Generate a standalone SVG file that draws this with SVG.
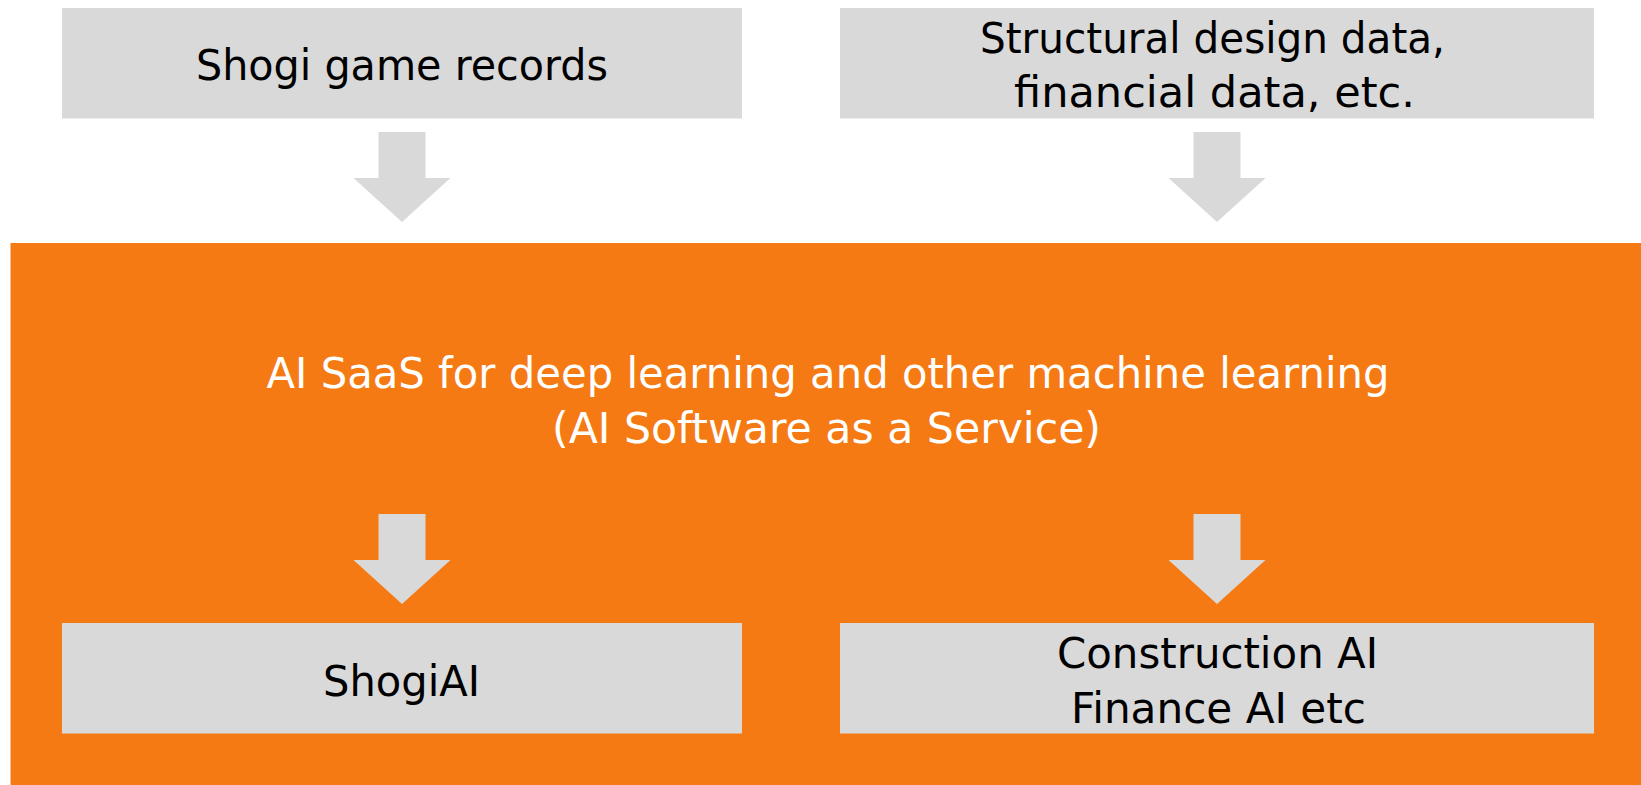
<svg xmlns="http://www.w3.org/2000/svg" width="1641" height="785" viewBox="0 0 1641 785">
<style>
.box{fill:#D9D9D9}
.arrow{fill:#D9D9D9}
.t{font-family:"DejaVu Sans","Verdana",sans-serif;font-size:43px;fill:#000;text-anchor:middle}
.w{fill:#FFFFFF}
</style>
<defs>
<path id="darrow" d="M-23.5,0 H23.5 V46 H48.5 L0,90 L-48.5,46 H-23.5 Z"/>
</defs>
<rect x="0" y="0" width="1641" height="785" fill="#FFFFFF"/>
<g id="saas">
<rect x="10.5" y="243" width="1631" height="542" fill="#F57A14"/>
<text class="t w" x="828" y="388" textLength="1123" lengthAdjust="spacingAndGlyphs">AI SaaS for deep learning and other machine learning</text>
<text class="t w" x="826.5" y="443" textLength="549" lengthAdjust="spacingAndGlyphs">(AI Software as a Service)</text>
</g>
<g id="shogi-records">
<rect class="box" x="62" y="8" width="680" height="110.5"/>
<text class="t" x="402" y="80" textLength="412" lengthAdjust="spacingAndGlyphs">Shogi game records</text>
</g>
<g id="structural-data">
<rect class="box" x="840" y="8" width="754" height="110.5"/>
<text class="t" x="1212.5" y="53" textLength="465" lengthAdjust="spacingAndGlyphs">Structural design data,</text>
<text class="t" x="1214.5" y="107" textLength="401" lengthAdjust="spacingAndGlyphs">financial data, etc.</text>
</g>
<g id="shogi-ai">
<rect class="box" x="62" y="623" width="680" height="110.5"/>
<text class="t" x="401.5" y="696" textLength="157" lengthAdjust="spacingAndGlyphs">ShogiAI</text>
</g>
<g id="construction-ai">
<rect class="box" x="840" y="623" width="754" height="110.5"/>
<text class="t" x="1217.5" y="668" textLength="321" lengthAdjust="spacingAndGlyphs">Construction AI</text>
<text class="t" x="1218.5" y="723" textLength="295" lengthAdjust="spacingAndGlyphs">Finance AI etc</text>
</g>
<g id="connectors">
<use href="#darrow" class="arrow" x="402" y="132"/>
<use href="#darrow" class="arrow" x="1217" y="132"/>
<use href="#darrow" class="arrow" x="402" y="514"/>
<use href="#darrow" class="arrow" x="1217" y="514"/>
</g>
</svg>
